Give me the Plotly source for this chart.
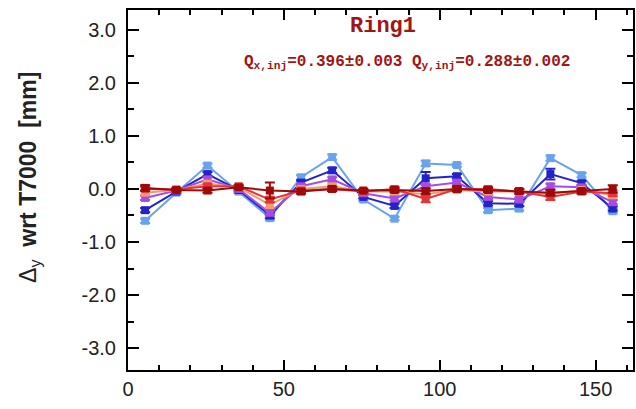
import plotly.graph_objects as go

x_pos = [5.5, 15.5, 25.5, 35.5, 45.5, 55.5, 65.5, 75.5, 85.5, 95.5, 105.5, 115.5, 125.5, 135.5, 145.5, 155.5]

light_blue = [-0.60, -0.07, 0.44, -0.05, -0.55, 0.22, 0.60, -0.20, -0.56, 0.48, 0.45, -0.40, -0.37, 0.58, 0.26, -0.42]
blue = [-0.40, -0.05, 0.28, -0.02, -0.50, 0.12, 0.35, -0.15, -0.32, 0.20, 0.24, -0.27, -0.28, 0.28, 0.11, -0.37]
purple = [-0.17, -0.03, 0.18, 0.00, -0.45, 0.05, 0.18, -0.08, -0.18, 0.05, 0.12, -0.15, -0.20, 0.05, 0.03, -0.25]
orange = [-0.07, -0.02, 0.10, 0.03, -0.30, 0.00, 0.05, -0.05, -0.05, -0.10, -0.02, -0.05, -0.05, -0.10, -0.02, -0.12]
red = [0.00, -0.01, 0.05, 0.05, -0.20, -0.03, 0.00, -0.05, 0.00, -0.19, 0.00, 0.00, -0.05, -0.15, -0.05, -0.08]
dark_red = [0.02, -0.02, -0.03, 0.03, -0.03, -0.05, 0.00, -0.03, -0.02, -0.04, 0.00, -0.02, -0.04, -0.07, -0.04, 0.00]

err_light_blue = [0.04, 0.03, 0.04, 0.03, 0.04, 0.04, 0.05, 0.03, 0.03, 0.05, 0.03, 0.04, 0.04, 0.05, 0.04, 0.04]
err_blue = [0.04, 0.03, 0.04, 0.03, 0.05, 0.04, 0.05, 0.03, 0.04, 0.12, 0.04, 0.04, 0.04, 0.10, 0.04, 0.04]
err_purple = [0.04, 0.03, 0.04, 0.03, 0.04, 0.04, 0.04, 0.03, 0.04, 0.04, 0.04, 0.04, 0.04, 0.05, 0.04, 0.04]
err_orange = [0.04, 0.03, 0.04, 0.03, 0.05, 0.04, 0.04, 0.03, 0.04, 0.05, 0.04, 0.04, 0.04, 0.05, 0.04, 0.04]
err_red = [0.04, 0.03, 0.04, 0.03, 0.05, 0.04, 0.04, 0.03, 0.04, 0.06, 0.04, 0.04, 0.04, 0.06, 0.04, 0.05]
err_dark_red = [0.05, 0.03, 0.04, 0.03, 0.15, 0.04, 0.04, 0.03, 0.04, 0.05, 0.04, 0.04, 0.04, 0.05, 0.04, 0.07]

y_tick_vals = [-3.0, -2.0, -1.0, 0.0, 1.0, 2.0, 3.0]
y_tick_text = ["-3.0", "-2.0", "-1.0", "0.0", "1.0", "2.0", "3.0"]
x_tick_vals = [0, 50, 100, 150]

series = [
    ("light blue", light_blue, err_light_blue, "#69a3ee"),
    ("blue", blue, err_blue, "#2323c8"),
    ("purple", purple, err_purple, "#a64ddf"),
    ("orange", orange, err_orange, "#f59a70"),
    ("red", red, err_red, "#e3363a"),
    ("dark red", dark_red, err_dark_red, "#9e0a0a"),
]

fig = go.Figure()
for name, ys, es, col in series:
    fig.add_trace(go.Scatter(
        x=x_pos, y=ys, name=name, mode="lines+markers",
        line=dict(color=col, width=2),
        marker=dict(symbol="square", size=8, color=col),
        error_y=dict(type="data", array=es, visible=True, color=col, thickness=2, width=5),
        showlegend=False,
    ))

axis_common = dict(
    showline=True, linecolor="black", linewidth=2, mirror="ticks",
    ticks="inside", tickcolor="black", tickwidth=1.5,
    showgrid=False, zeroline=False,
    tickfont=dict(family="Liberation Sans, Arial, sans-serif", size=20, color="#222"),
)

fig.update_xaxes(
    range=[0, 162], tickvals=x_tick_vals, ticklen=10,
    minor=dict(dtick=10, tick0=0, ticks="inside", ticklen=5, tickcolor="black", tickwidth=1.5),
    **axis_common,
)
fig.update_yaxes(
    range=[-3.41, 3.37], tickvals=y_tick_vals, ticktext=y_tick_text, ticklen=11,
    minor=dict(dtick=0.5, tick0=0, ticks="inside", ticklen=6, tickcolor="black", tickwidth=1.5),
    ticklabelstandoff=6,
    **axis_common,
)

fig.add_annotation(
    text="<b>Ring1</b>", xref="paper", yref="paper", x=0.505, y=0.955,
    xanchor="center", yanchor="middle",
    showarrow=False, font=dict(family="Liberation Mono, Courier New, monospace", size=22, color="#a01515"),
)
fig.add_annotation(
    text="<b>Q<sub>x,inj</sub>=0.396±0.003 Q<sub>y,inj</sub>=0.288±0.002</b>",
    xref="paper", yref="paper", x=0.553, y=0.853,
    xanchor="center", yanchor="middle",
    showarrow=False, font=dict(family="Liberation Mono, Courier New, monospace", size=16, color="#a01515"),
)
fig.add_annotation(
    text="Δ<sub>y</sub>  <b>wrt T7000  [mm]</b>", textangle=-90,
    xref="paper", yref="paper", x=-0.195, y=0.535, xanchor="center", yanchor="middle",
    showarrow=False, font=dict(family="Liberation Sans, Arial, sans-serif", size=23, color="#222"),
)

fig.update_layout(
    width=636, height=409,
    margin=dict(l=128, r=1, t=10, b=39),
    paper_bgcolor="white", plot_bgcolor="white",
)

fig.write_html("out.html", config={"displayModeBar": False},
               post_script="document.body.style.margin='0';document.body.style.padding='0';")
